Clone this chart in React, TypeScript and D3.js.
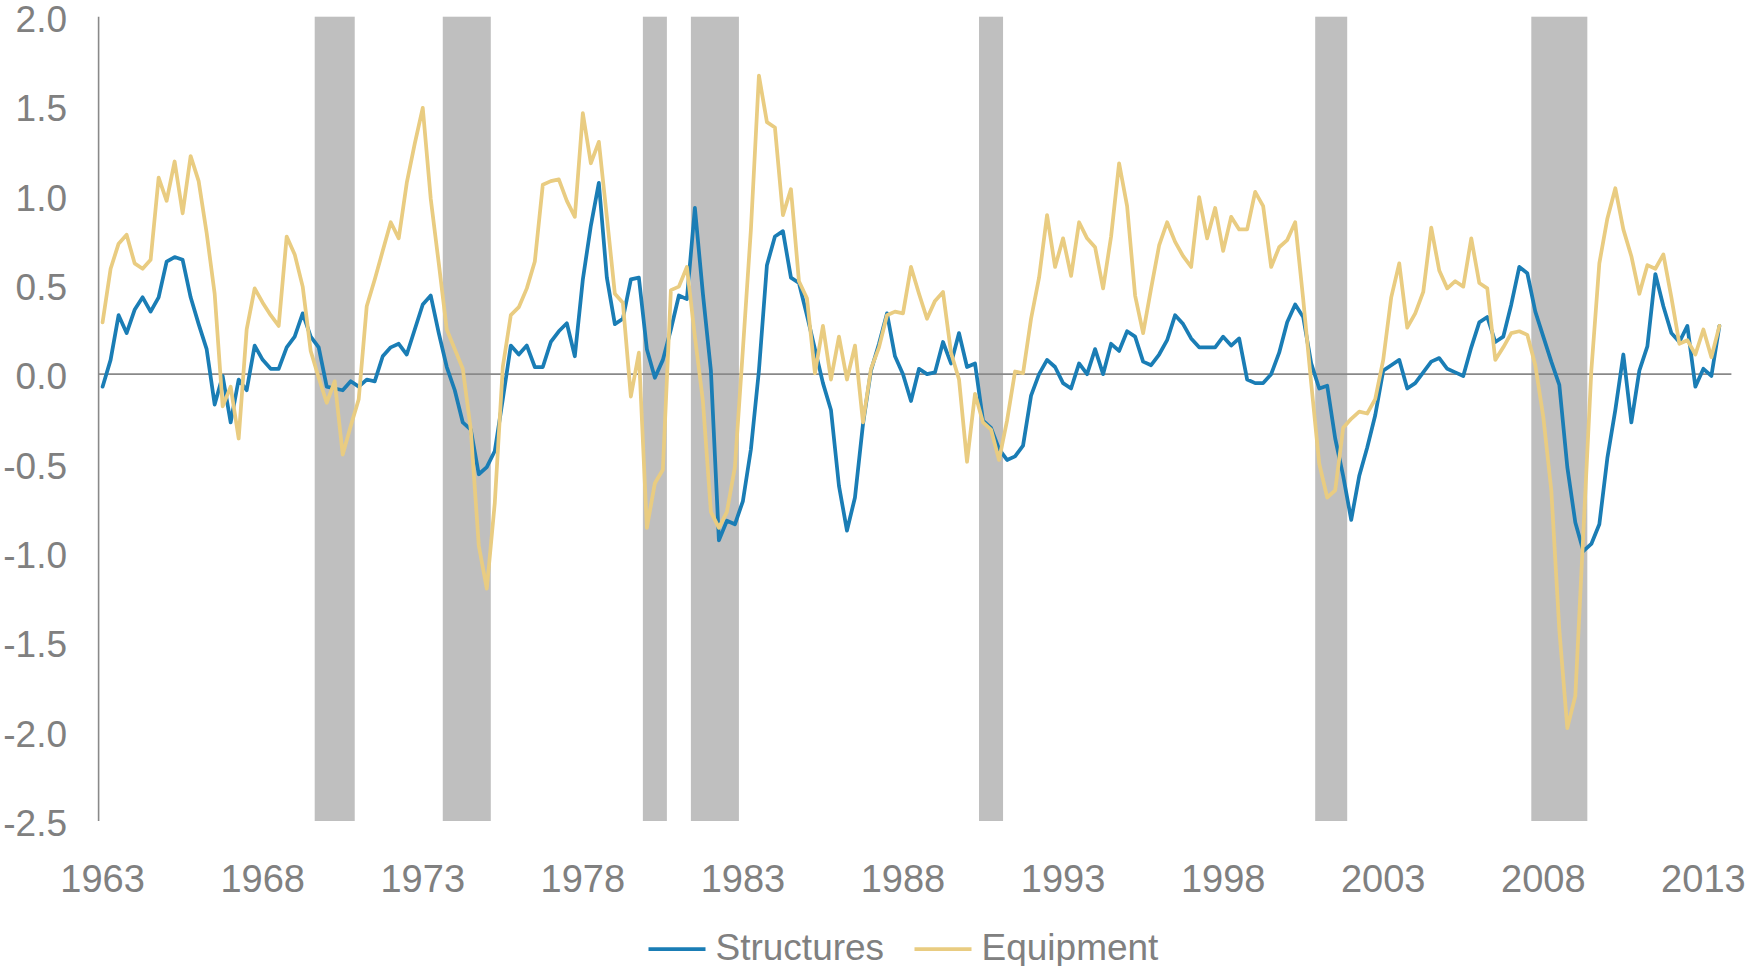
import React from "react";
import * as d3 from "d3";

// ---- data ----
const startYear = 1963;
const endYear = 2013;
const quarters: string[] = [];
for (let yr = startYear; yr <= endYear; yr++) for (let q = 1; q <= 4; q++) quarters.push(`${yr}Q${q}`);

const xTickYears = ["1963", "1968", "1973", "1978", "1983", "1988", "1993", "1998", "2003", "2008", "2013"];
const yTicks = [-2.5, -2.0, -1.5, -1.0, -0.5, 0.0, 0.5, 1.0, 1.5, 2.0];

const recessions: [string, string][] = [
  ["1969Q4", "1970Q4"],
  ["1973Q4", "1975Q1"],
  ["1980Q1", "1980Q3"],
  ["1981Q3", "1982Q4"],
  ["1990Q3", "1991Q1"],
  ["2001Q1", "2001Q4"],
  ["2007Q4", "2009Q2"],
];

// Structures, quarterly from 1963Q1
const structures = [
  -0.07, 0.08, 0.33, 0.23, 0.36, 0.43, 0.35, 0.43, 0.63, 0.655,
  0.64, 0.43, 0.28, 0.14, -0.17, -0.01, -0.27, -0.03, -0.09, 0.16,
  0.08, 0.03, 0.03, 0.15, 0.21, 0.34, 0.21, 0.15, -0.07, -0.08,
  -0.09, -0.04, -0.07, -0.03, -0.04, 0.10, 0.15, 0.17, 0.11, 0.25,
  0.39, 0.44, 0.23, 0.04, -0.09, -0.27, -0.31, -0.56, -0.52, -0.43,
  -0.14, 0.16, 0.11, 0.16, 0.04, 0.04, 0.18, 0.24, 0.285, 0.10,
  0.53, 0.83, 1.07, 0.54, 0.28, 0.31, 0.53, 0.54, 0.14, -0.02,
  0.08, 0.25, 0.44, 0.42, 0.93, 0.45, 0.02, -0.93, -0.82, -0.84,
  -0.71, -0.42, 0.02, 0.61, 0.77, 0.80, 0.54, 0.51, 0.33, 0.14,
  -0.05, -0.20, -0.625, -0.875, -0.69, -0.28, 0.02, 0.17, 0.34, 0.10,
  0.0, -0.15, 0.03, 0.0, 0.01, 0.18, 0.06, 0.23, 0.04, 0.06,
  -0.26, -0.30, -0.42, -0.48, -0.46, -0.40, -0.12, 0.0, 0.08, 0.04,
  -0.05, -0.08, 0.06, 0.0, 0.14, 0.0, 0.17, 0.13, 0.24, 0.21,
  0.07, 0.05, 0.11, 0.19, 0.33, 0.28, 0.20, 0.15, 0.15, 0.15,
  0.21, 0.16, 0.20, -0.03, -0.05, -0.05, 0.0, 0.12, 0.29, 0.39,
  0.32, 0.06, -0.08, -0.065, -0.36, -0.57, -0.815, -0.57, -0.41, -0.23,
  0.02, 0.05, 0.08, -0.08, -0.05, 0.01, 0.07, 0.09, 0.03, 0.01,
  -0.01, 0.15, 0.29, 0.32, 0.18, 0.21, 0.39, 0.60, 0.565, 0.35,
  0.21, 0.07, -0.06, -0.52, -0.83, -0.99, -0.95, -0.84, -0.47, -0.20,
  0.11, -0.27, 0.02, 0.155, 0.56, 0.38, 0.23, 0.18, 0.27, -0.07,
  0.03, -0.01, 0.27,
];

// Equipment, quarterly from 1963Q1
const equipment = [
  0.29, 0.59, 0.73, 0.78, 0.62, 0.59, 0.64, 1.10, 0.97, 1.19,
  0.90, 1.22, 1.08, 0.79, 0.45, -0.18, -0.07, -0.36, 0.25, 0.48,
  0.40, 0.33, 0.27, 0.77, 0.67, 0.49, 0.13, -0.02, -0.16, -0.04,
  -0.45, -0.29, -0.14, 0.38, 0.53, 0.69, 0.85, 0.76, 1.07, 1.29,
  1.49, 0.98, 0.62, 0.25, 0.14, 0.03, -0.31, -0.96, -1.20, -0.72,
  0.04, 0.33, 0.375, 0.48, 0.63, 1.06, 1.08, 1.09, 0.97, 0.88,
  1.46, 1.18, 1.30, 0.88, 0.45, 0.40, -0.125, 0.12, -0.86, -0.61,
  -0.535, 0.47, 0.49, 0.60, 0.21, -0.15, -0.77, -0.86, -0.77, -0.52,
  0.14, 0.81, 1.67, 1.41, 1.38, 0.89, 1.035, 0.52, 0.425, 0.005,
  0.27, -0.03, 0.21, -0.03, 0.16, -0.27, 0.03, 0.15, 0.33, 0.35,
  0.34, 0.60, 0.45, 0.31, 0.41, 0.46, 0.12, -0.03, -0.49, -0.11,
  -0.27, -0.31, -0.48, -0.26, 0.015, 0.005, 0.31, 0.54, 0.89, 0.60,
  0.76, 0.55, 0.85, 0.76, 0.71, 0.48, 0.77, 1.18, 0.94, 0.44,
  0.23, 0.48, 0.72, 0.85, 0.74, 0.66, 0.60, 0.99, 0.76, 0.93,
  0.69, 0.88, 0.81, 0.81, 1.02, 0.94, 0.60, 0.71, 0.75, 0.85,
  0.42, -0.05, -0.50, -0.69, -0.65, -0.30, -0.25, -0.21, -0.22, -0.14,
  0.08, 0.43, 0.62, 0.26, 0.34, 0.46, 0.82, 0.58, 0.48, 0.52,
  0.49, 0.76, 0.51, 0.48, 0.08, 0.15, 0.23, 0.24, 0.22, 0.05,
  -0.24, -0.65, -1.43, -1.98, -1.80, -0.89, 0.02, 0.62, 0.87, 1.04,
  0.81, 0.66, 0.45, 0.61, 0.59, 0.67, 0.43, 0.17, 0.19, 0.11,
  0.25, 0.095, 0.27,
];

const seriesNames = ["Structures", "Equipment"];
const seriesColors = ["#1a7db5", "#e9cc81"];

// ---- layout ----
const W = 1745;
const H = 966;
const M = { left: 98.6, right: 1731.4, top: 16.7, bottom: 821 };
const TEXT = "#808080";
const FONT = "'Liberation Sans', Arial, sans-serif";

export default function App() {
  const x = d3.scaleBand<string>().domain(quarters).range([M.left, M.right]).padding(0);
  const bw = x.bandwidth();
  const cx = (q: string) => (x(q) as number) + bw / 2;
  const y = d3.scaleLinear().domain([-2.5, 2]).range([M.bottom, M.top]);

  const line = d3
    .line<number>()
    .x((_, i) => cx(quarters[i]))
    .y((d) => y(d));

  const series = [structures, equipment];

  const legendLine = 57;
  const legendItems = [
    { x: 648.5, name: seriesNames[0], color: seriesColors[0] },
    { x: 914.5, name: seriesNames[1], color: seriesColors[1] },
  ];

  return (
    <svg
      width={W}
      height={H}
      viewBox={`0 0 ${W} ${H}`}
      style={{ position: "absolute", left: 0, top: 0, display: "block", background: "#fff" }}
      fontFamily={FONT}
    >
      {/* recession shading */}
      {recessions.map(([a, b], k) => (
        <rect
          key={k}
          x={x(a) as number}
          y={M.top}
          width={(x(b) as number) + bw - (x(a) as number)}
          height={M.bottom - M.top}
          fill="#bfbfbf"
        />
      ))}

      {/* y axis line */}
      <line x1={M.left} x2={M.left} y1={M.top} y2={M.bottom} stroke="#898989" strokeWidth={1.6} />
      {/* zero line */}
      <line x1={M.left} x2={M.right} y1={y(0)} y2={y(0)} stroke="#898989" strokeWidth={1.6} />

      {/* y tick labels */}
      {yTicks.map((v) => (
        <text key={v} x={67} y={y(v) + 15.2} textAnchor="end" fontSize={37} fill={TEXT}>
          {v.toFixed(1)}
        </text>
      ))}

      {/* x tick labels */}
      {xTickYears.map((yr) => (
        <text key={yr} x={cx(`${yr}Q1`)} y={891.5} textAnchor="middle" fontSize={38} fill={TEXT}>
          {yr}
        </text>
      ))}

      {/* series lines */}
      {series.map((s, k) => (
        <path
          key={k}
          d={line(s) as string}
          fill="none"
          stroke={seriesColors[k]}
          strokeWidth={3.75}
          strokeLinejoin="round"
          strokeLinecap="round"
        />
      ))}

      {/* legend */}
      {legendItems.map((it) => (
        <g key={it.name}>
          <line x1={it.x} x2={it.x + legendLine} y1={949} y2={949} stroke={it.color} strokeWidth={3.75} />
          <text x={it.x + legendLine + 10} y={960} fontSize={37} fill={TEXT}>
            {it.name}
          </text>
        </g>
      ))}
    </svg>
  );
}
